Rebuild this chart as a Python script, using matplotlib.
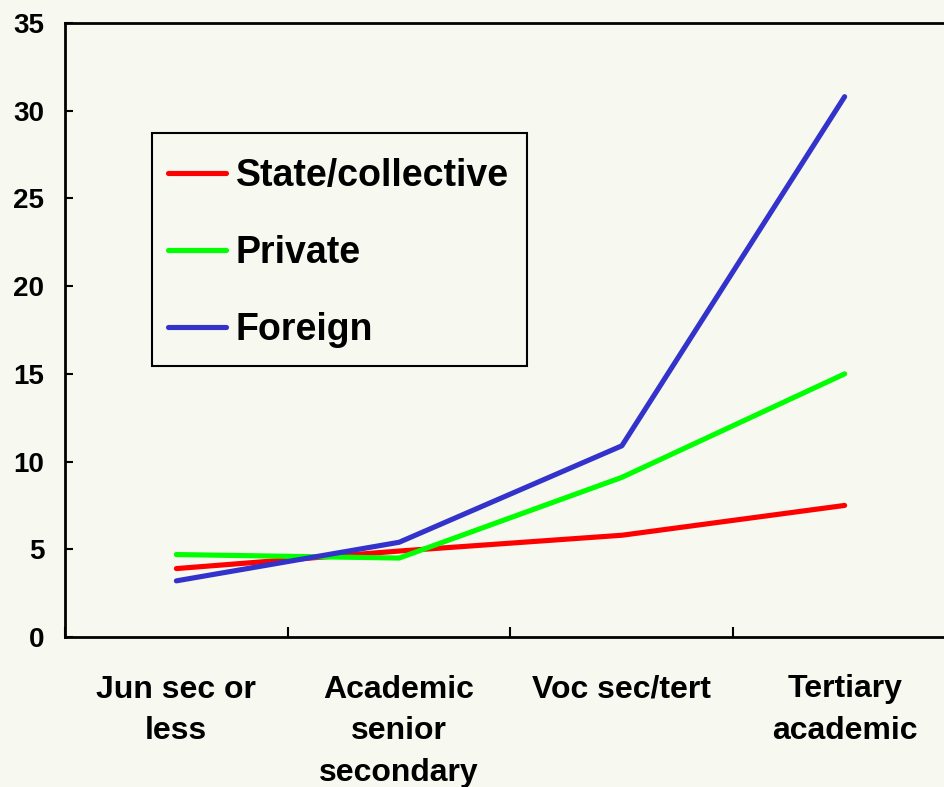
import matplotlib
matplotlib.use("Agg")
import matplotlib.pyplot as plt
from matplotlib.ticker import FixedLocator
from matplotlib.patches import Rectangle

categories = ["Jun sec or\nless", "Academic\nsenior\nsecondary", "Voc sec/tert", "Tertiary\nacademic"]
state_collective = [3.9, 4.9, 5.8, 7.5]
private = [4.7, 4.5, 9.1, 15.0]
foreign = [3.2, 5.4, 10.9, 30.8]
series_names = ["State/collective", "Private", "Foreign"]
y_ticks = [0, 5, 10, 15, 20, 25, 30, 35]

bg = "#F7F8F0"
colors = ["#FF0000", "#00FF00", "#3333CC"]

plt.rcParams['font.family'] = ['Liberation Sans', 'DejaVu Sans']
plt.rcParams['font.weight'] = 'bold'

W, H = 945, 787
fig = plt.figure(figsize=(W / 100, H / 100), dpi=100, facecolor=bg)
left, right, top, bottom = 65, 956, 23, 637
ax = fig.add_axes([left / W, 1 - bottom / H, (right - left) / W, (bottom - top) / H])
ax.set_facecolor(bg)

x = list(range(1, len(categories) + 1))
for vals, name, c in zip([state_collective, private, foreign], series_names, colors):
    ax.plot(x, vals, color=c, lw=3.7, solid_capstyle='round', solid_joinstyle='round', label=name)

ax.set_xlim(0.5, len(categories) + 0.5)
ax.set_ylim(0, 35)
ax.set_yticks(y_ticks)
ax.set_yticklabels([str(v) for v in y_ticks], fontsize=20, fontweight='bold')
ax.set_xticks(x)
ax.set_xticklabels(categories, fontsize=23, fontweight='bold', linespacing=1.5, va='top')
ax.xaxis.set_minor_locator(FixedLocator([i + 0.5 for i in range(len(categories) + 1)]))
ax.tick_params(axis='x', which='major', length=0, pad=27)
ax.tick_params(axis='x', which='minor', direction='in', length=7, width=1.5)
ax.tick_params(axis='y', which='major', direction='in', length=6, width=1.5, pad=15)

for s in ax.spines.values():
    s.set_linewidth(2)
    s.set_color('black')

# legend frame drawn separately to match the box exactly
frame = Rectangle((152 / W, 1 - 366 / H), (527 - 152) / W, (366 - 133) / H,
                  transform=fig.transFigure, fill=True, facecolor=bg,
                  edgecolor='black', linewidth=1.5, zorder=4, clip_on=False)
ax.add_patch(frame)
leg = ax.legend(loc='upper left', bbox_to_anchor=(168 / W, 1 - 158 / H),
                bbox_transform=fig.transFigure, borderaxespad=0,
                prop={'size': 27, 'weight': 'bold'}, frameon=False,
                handlelength=1.55, handletextpad=0.25, labelspacing=1.09, borderpad=0)
leg.set_zorder(6)
for l in leg.get_lines():
    l.set_solid_capstyle('round')
    l.set_linewidth(3.7)

fig.savefig("out.png", dpi=100, facecolor=bg)
